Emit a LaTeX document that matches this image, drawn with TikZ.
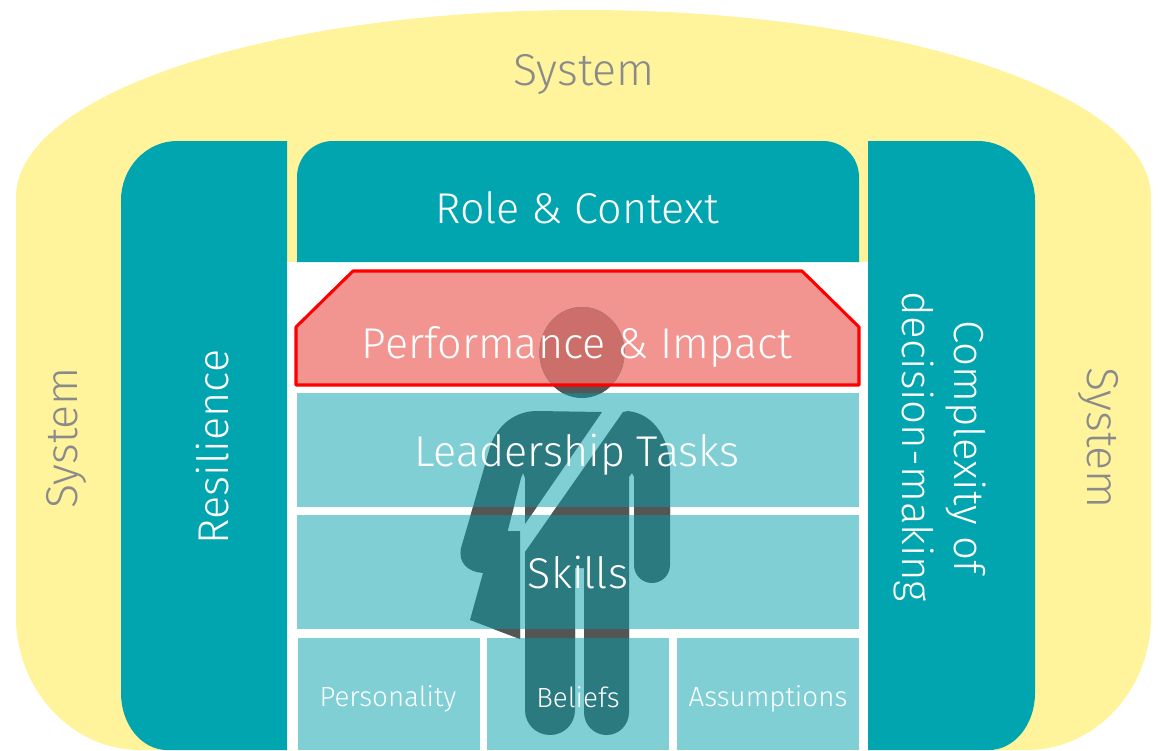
\documentclass[tikz,border=0pt]{standalone}
\usepackage{fontspec}
\setmainfont{Fira Sans Light}
\definecolor{sysyellow}{HTML}{FFF49B}
\definecolor{tealmain}{HTML}{00A5B0}
\definecolor{teallight}{HTML}{80CFD5}
\definecolor{figdark}{HTML}{2B7A80}
\definecolor{figgap}{HTML}{555555}
\definecolor{fighead}{HTML}{CC6E6A}
\definecolor{redfill}{HTML}{F29490}
\definecolor{sysgray}{HTML}{8A8A8A}
\newcommand{\figurepath}{
  (582,352.5) ellipse[x radius=42.5, y radius=45.5]
  (537,411) -- (602,412) -- (525,524) -- (525,478) -- (523,473) -- (521,478) -- (507.7,531) -- (520,531) -- (520,639) -- (470,620) -- (483,573)
  .. controls (468,572) and (458,563) .. (461,548) -- (473,507) -- (490,447)
  .. controls (497,425) and (515,411) .. (537,411) -- cycle
  (623,412) -- (525,552) -- (525,710)
  .. controls (525,724) and (536,735) .. (550,735) .. controls (564,735) and (575,724) .. (575,710)
  -- (575,568) -- (584,568) -- (584,712)
  .. controls (584,725) and (594,735) .. (606.5,735) .. controls (619,735) and (629,725) .. (629,712)
  -- (629,477) -- (632,473) -- (634,477) -- (634,565)
  .. controls (634,575) and (642,583) .. (652,583) .. controls (662,583) and (670,575) .. (670,565)
  -- (670,470) .. controls (670,440) and (655,414) .. (628,411) -- cycle
}
\newcommand{\redpath}{(296,385) -- (296,327) -- (353,271) -- (802,271) -- (859,327) -- (859,385) -- cycle}
\tikzset{
  x=0.75pt, y=-0.75pt,
  band/.style={fill=teallight},
  label/.style={text=white, inner sep=0pt, anchor=center},
  syslabel/.style={text=sysgray, inner sep=0pt, anchor=center, font=\fontsize{33.5}{38}\selectfont},
  big/.style={font=\fontsize{32.3}{38}\selectfont},
  small/.style={font=\fontsize{20.8}{25}\selectfont}
}
\begin{document}
\begin{tikzpicture}
\useasboundingbox (0,0) rectangle (1159,750);
% outer system
\fill[sysyellow] (16,197) .. controls (16,94) and (270,10) .. (583.5,10)
  .. controls (897,10) and (1151,94) .. (1151,197) -- (1151,617)
  .. controls (1151,690) and (1095,750) .. (1027,750) -- (140,750)
  .. controls (72,750) and (16,690) .. (16,617) -- cycle;
\fill[white] (287,262) rectangle (868,750);
% teal frames
\fill[tealmain] (287,141) -- (177,141) .. controls (146,141) and (121,168) .. (121,200) -- (121,693)
  .. controls (121,725) and (142,750) .. (167,750) -- (287,750) -- cycle;
\fill[tealmain] (868,141) -- (978,141) .. controls (1009,141) and (1035,168) .. (1035,200) -- (1035,693)
  .. controls (1035,725) and (1014,750) .. (989,750) -- (868,750) -- cycle;
\fill[tealmain] (297,262) -- (297,177) .. controls (297,157) and (313,141) .. (333,141) -- (823,141)
  .. controls (843,141) and (859,157) .. (859,177) -- (859,262) -- cycle;
% bands
\fill[band] (297,393) rectangle (859,507);
\fill[band] (297,515) rectangle (859,629);
\fill[band] (298,638) rectangle (480,750);
\fill[band] (487,638) rectangle (669,750);
\fill[band] (677,638) rectangle (859,750);
\fill[redfill] \redpath;
% person
\fill[figdark] \figurepath;
\begin{scope}
  \clip (440,386) rectangle (700,393) (440,507) rectangle (700,515) (440,629) rectangle (700,638);
  \fill[figgap] \figurepath;
\end{scope}
\begin{scope}
  \clip \redpath;
  \fill[fighead] \figurepath;
\end{scope}
\draw[red, line width=2.3pt, line join=round] \redpath;
% labels
\node[syslabel] (systop) at (584,75) {System};
\node[syslabel, rotate=90] (sysleft) at (67,438) {System};
\node[syslabel, rotate=-90] (sysright) at (1098,438) {System};
\node[label, big] (role) at (577,208) {Role \& Context};
\node[label, big] (perf) at (577,347) {Performance \& Impact};
\node[label, big] (lead) at (577,455) {Leadership Tasks};
\node[label, big] (skills) at (578,573) {Skills};
\node[label, big, rotate=90] (resil) at (213,447) {Resilience};
\node[label, font=\fontsize{31.5}{38}\selectfont, rotate=-90, align=center] (complex) at (940,447) {Complexity of\\[1pt]decision-making};
\node[label, small] (pers) at (388,699) {Personality};
\node[label, small] (bel) at (578,697) {Beliefs};
\node[label, small] (ass) at (768,699) {Assumptions};
\end{tikzpicture}
\end{document}
